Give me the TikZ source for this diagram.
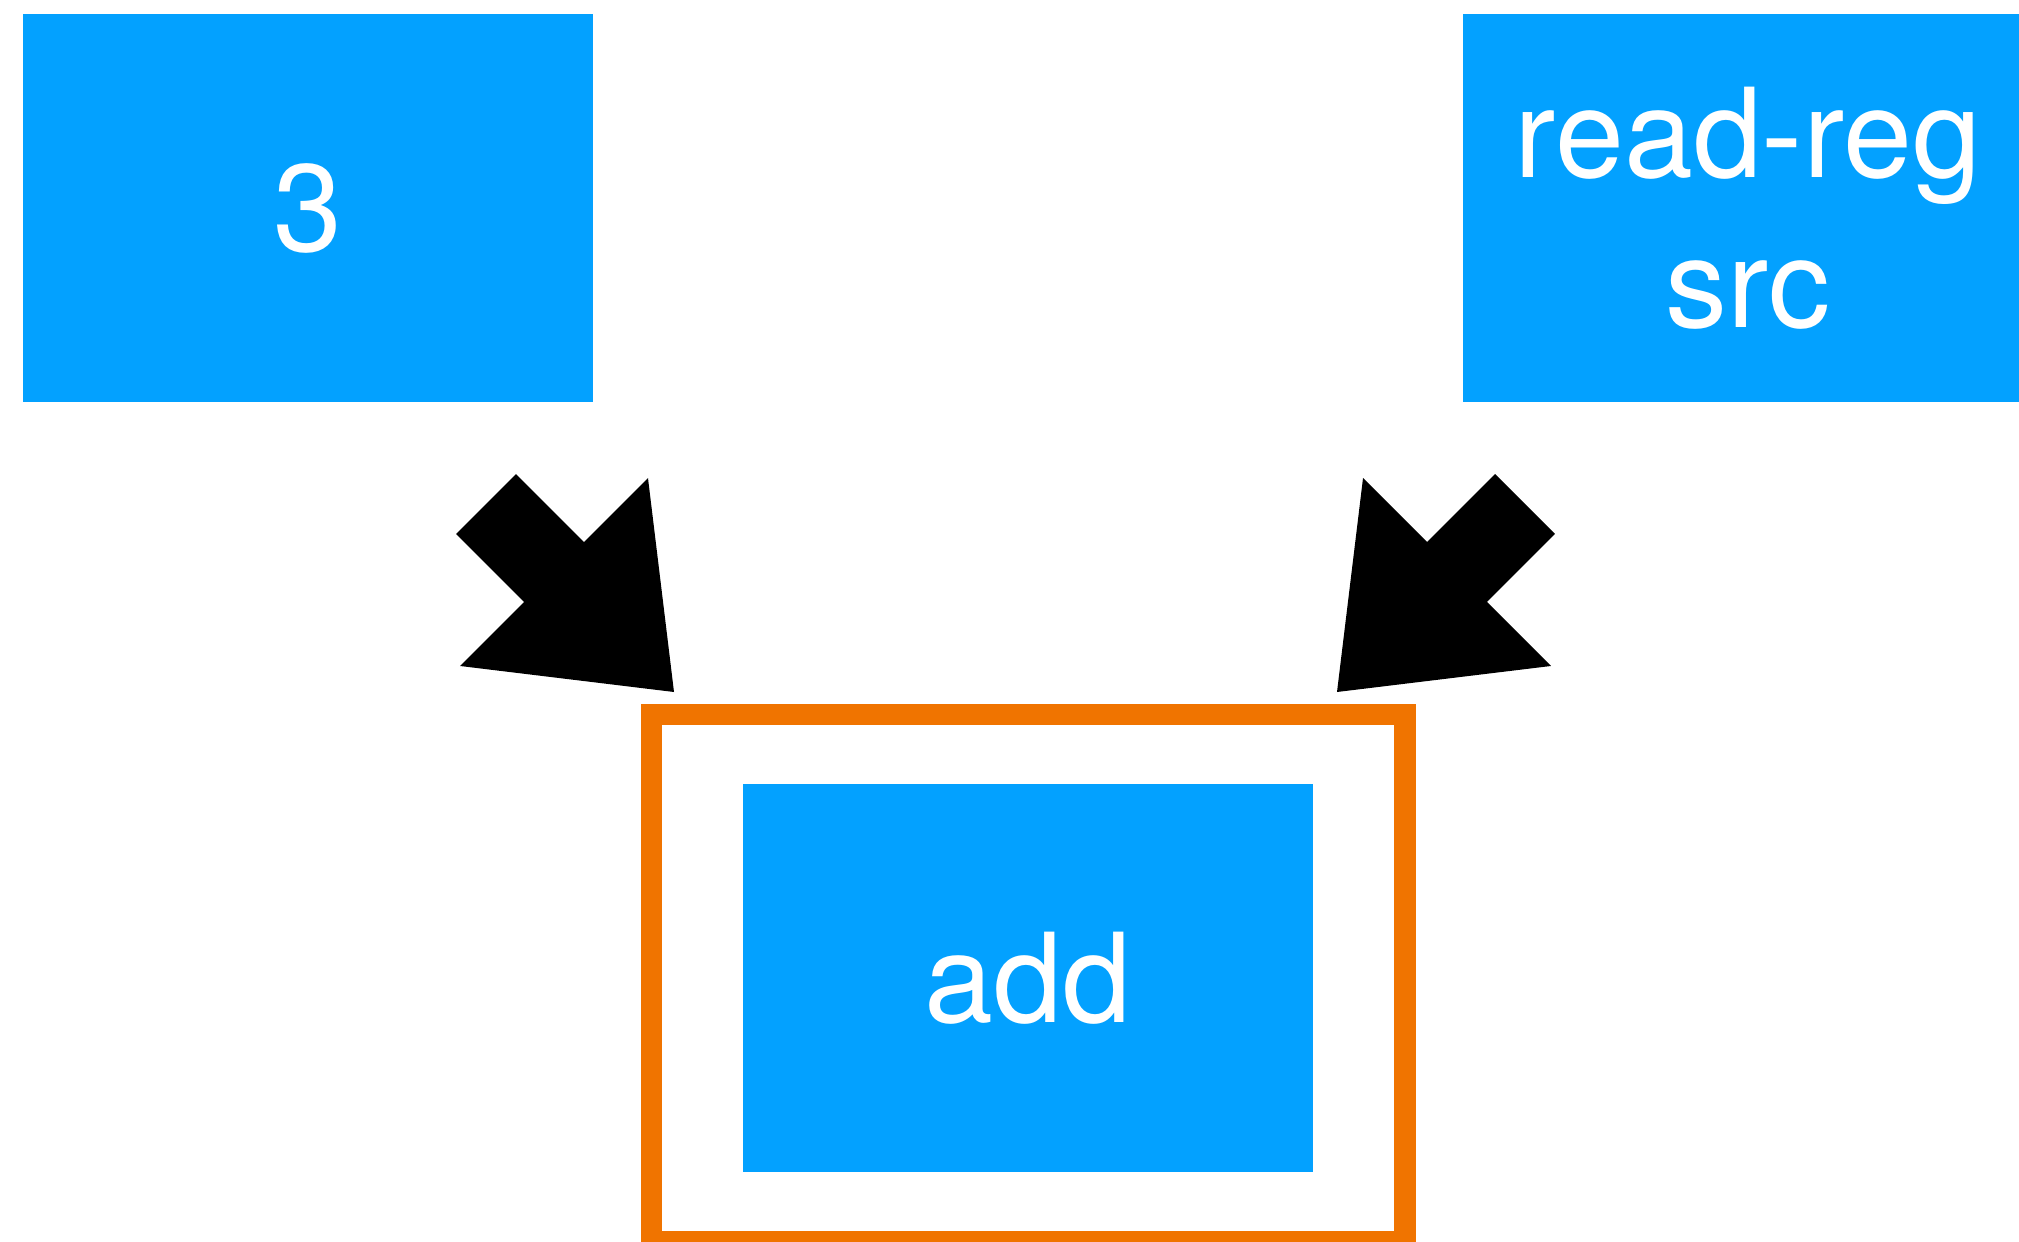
\documentclass[tikz,border=0pt]{standalone}
\usepackage{fontspec}
\setmainfont{TeX Gyre Heros}
\usetikzlibrary{calc}

\definecolor{boxblue}{RGB}{3,161,255}
\definecolor{frameorange}{RGB}{240,116,0}

\tikzset{
  bluebox/.style={rectangle, fill=boxblue, draw=none, inner sep=0pt,
    minimum width=570pt, minimum height=388pt, text=white, align=center,
    font=\fontsize{124}{150}\selectfont},
  orangeframe/.style={rectangle, draw=frameorange, line width=21.5pt,
    inner sep=0pt, minimum width=753.5pt, minimum height=527pt},
  arrowbody/.style={fill=black, draw=none},
}

% Block arrow from a tail coordinate (#1) to a tip coordinate (#2):
% shaft 84.8pt wide, head 265.8pt wide and 169.7pt long.
\newcommand{\drawfatarrow}[2]{%
  \coordinate (#1-base) at ($(#2)!169.7pt!(#1)$);
  \fill[arrowbody]
    ($(#1)!42.4pt!90:(#2)$)
    -- ($(#1-base)!42.4pt!90:(#2)$)
    -- ($(#1-base)!132.9pt!90:(#2)$)
    -- (#2)
    -- ($(#1-base)!132.9pt!-90:(#2)$)
    -- ($(#1-base)!42.4pt!-90:(#2)$)
    -- ($(#1)!42.4pt!-90:(#2)$)
    -- cycle;
}

\begin{document}
\begin{tikzpicture}[x=1pt,y=-1pt]
  \useasboundingbox (0,0) rectangle (2019,1242);
  \clip (0,0) rectangle (2019,1242);

  % operand blocks
  \node[bluebox] (three)   at (308,208)  {3};
  \node[bluebox] (readreg) at (1748,208) {read-reg\\src};

  % highlighted operation
  \node[orangeframe] (frame) at (1028,978) {};
  \node[bluebox] (add) at (frame.center) {add};

  % arrows feeding the operation
  \coordinate (l-tail) at (486,504);
  \coordinate (l-tip)  at (674,692);
  \coordinate (r-tail) at (1525,504);
  \coordinate (r-tip)  at (1337,692);
  \drawfatarrow{l-tail}{l-tip}
  \drawfatarrow{r-tail}{r-tip}
\end{tikzpicture}
\end{document}
